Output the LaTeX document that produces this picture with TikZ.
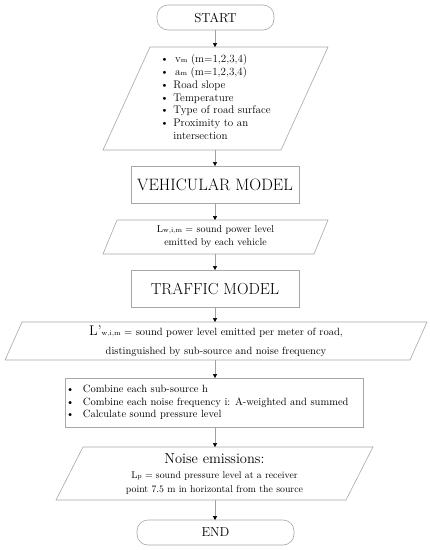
\documentclass[tikz,border=0pt]{standalone}
\usetikzlibrary{arrows.meta}
\definecolor{edgegray}{HTML}{A8A8A8}
\definecolor{linegray}{HTML}{A0A0A0}
\tikzset{
  every node/.style={inner sep=0pt, outer sep=0pt, text=black},
  roundbox/.style={draw=edgegray, line width=0.6pt, rounded corners=11pt, minimum height=25pt},
  rectbox/.style={draw=edgegray, line width=0.6pt},
  paraline/.style={draw=edgegray, line width=0.6pt},
  flow/.style={draw=linegray, line width=0.5pt, -{Triangle[length=4pt,width=4pt,black]}},
}
\newcommand{\parallelo}[2]{%
  \draw[paraline] ([xshift=#2]#1.north west) -- (#1.north east) -- ([xshift=-#2]#1.south east) -- (#1.south west) -- cycle;}
\newcommand{\sm}[1]{{\fontsize{7}{7}\selectfont #1}}
\begin{document}
\begin{tikzpicture}[x=1pt,y=-1pt]
\useasboundingbox (0,0) rectangle (430,550);
\fill[white] (0,0) rectangle (430,550);
\coordinate (axis) at (215,0);

\node[roundbox, minimum width=117pt] (start) at (215.5,17.5) {\fontsize{13}{15}\selectfont START};

\node[minimum width=225pt, minimum height=103pt] (p1) at (215.5,98.5) {\fontsize{11}{12.7}\selectfont
  \begin{tabular}{@{}p{13pt}@{}l@{}}
  \textbullet & \,v\sm{m} (m=1,2,3,4)\\
  \textbullet & \,a\sm{m} (m=1,2,3,4)\\
  \textbullet & Road slope\\
  \textbullet & Temperature\\
  \textbullet & Type of road surface\\
  \textbullet & Proximity to an\\
              & intersection
  \end{tabular}};
\parallelo{p1}{47pt}

\node[rectbox, minimum width=168pt, minimum height=37pt] (vm) at (215,184.5) {\fontsize{16.5}{18}\selectfont VEHICULAR MODEL};

\node[minimum width=225pt, minimum height=34pt, align=center, font=\fontsize{10}{13}\selectfont] (p2) at (215.5,237) {L\sm{w,i,m} = sound power level\\ emitted by each vehicle};
\parallelo{p2}{14pt}

\node[rectbox, minimum width=168pt, minimum height=37pt] (tm) at (215,288.5) {\fontsize{16}{18}\selectfont TRAFFIC MODEL};

\node[minimum width=422pt, minimum height=38pt, align=center, font=\fontsize{10.5}{19}\selectfont] (p3) at (216,341) {\fontsize{14}{14}\selectfont L’\sm{w,i,m}\fontsize{10.5}{19}\selectfont{} = sound power level emitted per meter of road,\\ distinguished by sub-source and noise frequency};
\parallelo{p3}{17pt}

\node[rectbox, minimum width=298pt, minimum height=49pt] (b4) at (214,402.5) {};
\node[anchor=west] (b4t) at (66,402.5) {\fontsize{10.5}{12.5}\selectfont
  \begin{tabular}{@{}p{17pt}@{}l@{}}
  \textbullet & Combine each sub-source h\\
  \textbullet & Combine each noise frequency i: A-weighted and summed\\
  \textbullet & Calculate sound pressure level
  \end{tabular}};

\node[minimum width=317pt, minimum height=53pt, align=center, font=\fontsize{9.8}{14}\selectfont] (p5) at (214.5,473.5) {\fontsize{14.5}{16}\selectfont Noise emissions:\\[1pt]
  \fontsize{9.8}{14}\selectfont L\sm{p} = sound pressure level at a receiver\\ point 7.5 m in horizontal from the source};
\parallelo{p5}{27pt}

\node[roundbox, minimum width=157pt] (end) at (215.5,532.5) {\fontsize{13}{15}\selectfont END};

\draw[flow] (start.south -| axis) -- (p1.north -| axis);
\draw[flow] (p1.south -| axis) -- (vm.north -| axis);
\draw[flow] (vm.south -| axis) -- (p2.north -| axis);
\draw[flow] (p2.south -| axis) -- (tm.north -| axis);
\draw[flow] (tm.south -| axis) -- (p3.north -| axis);
\draw[flow] (p3.south -| axis) -- (b4.north -| axis);
\draw[flow] (b4.south -| axis) -- (p5.north -| axis);
\draw[flow] (p5.south -| axis) -- (end.north -| axis);
\end{tikzpicture}
\end{document}
